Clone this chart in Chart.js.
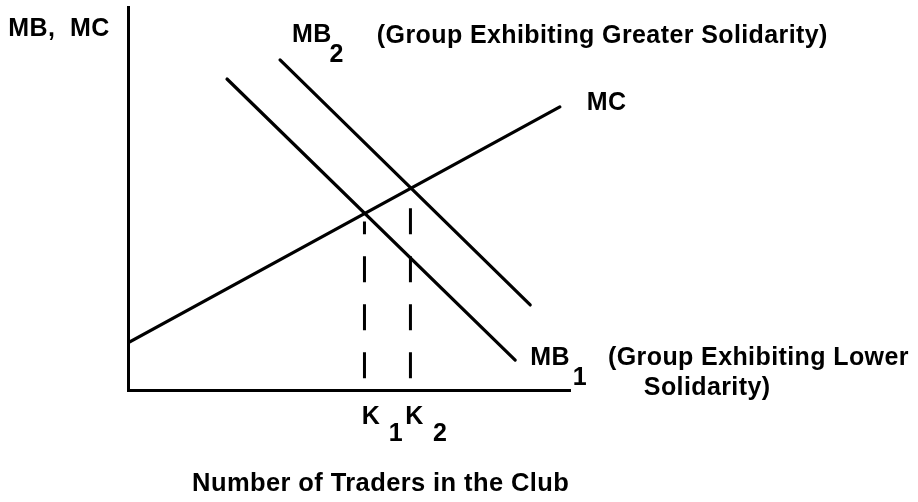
<!DOCTYPE html>
<html>
<head>
<meta charset="utf-8">
<script src="https://cdn.jsdelivr.net/npm/chart.js@4.4.0/dist/chart.umd.min.js"></script>
<style>
  html, body { margin: 0; padding: 0; background: #fff; }
  #wrap { width: 918px; height: 502px; }
</style>
</head>
<body>
<div id="wrap"><canvas id="chart"></canvas></div>
<script>
// curve end points, in axis units (0..100 on both axes)
const mcX = [0, 97.7];
const mcY = [12.3, 73.9];
const mb1X = [22.4, 87.6];
const mb1Y = [81.2, 7.8];
const mb2X = [34.4, 91.0];
const mb2Y = [86.2, 22.2];
// K1, K2 and the height where each dashed drop line stops
const kX = [53.5, 63.9];
const kTop = [44.0, 49.6];
const dashBottom = 3.1;

// text labels: [text, x, y, font size]
const labels = [
  ['MB,  MC', -27.1, 94.3, 25],
  ['MB', 37.1, 92.7, 25],
  ['2', 45.6, 87.5, 25],
  ['(Group Exhibiting Greater Solidarity)', 56.3, 92.5, 25],
  ['MC', 103.8, 75.0, 25],
  ['MB', 91.0, 8.2, 25],
  ['1', 100.6, 3.0, 25],
  ['(Group Exhibiting Lower', 108.6, 8.2, 25],
  ['Solidarity)', 116.7, 0.4, 25],
  ['K', 52.9, -7.2, 25],
  ['1', 59.0, -11.4, 25],
  ['K', 62.7, -7.2, 25],
  ['2', 69.0, -11.4, 25],
  ['Number of Traders in the Club', 14.5, -24.6, 25.5]
];

function pts(xs, ys) {
  return xs.map((x, i) => ({x: x, y: ys[i]}));
}

const solid = {
  showLine: true,
  pointRadius: 0,
  borderColor: '#000',
  borderWidth: 3.2,
  borderCapStyle: 'round',
  fill: false
};
const dashed = {
  showLine: true,
  pointRadius: 0,
  borderColor: '#000',
  borderWidth: 3,
  borderDash: [26, 22],
  borderCapStyle: 'butt',
  fill: false
};

const textPlugin = {
  id: 'textLabels',
  afterDraw(chart) {
    const ctx = chart.ctx;
    const xs = chart.scales.x, ys = chart.scales.y;
    ctx.save();
    ctx.fillStyle = '#000';
    ctx.textAlign = 'left';
    ctx.textBaseline = 'middle';
    ctx.letterSpacing = '0.4px';
    labels.forEach(l => {
      ctx.font = 'bold ' + l[3] + 'px "Liberation Sans", Arial, sans-serif';
      ctx.fillText(l[0], xs.getPixelForValue(l[1]), ys.getPixelForValue(l[2]));
    });
    ctx.restore();
  }
};

const axis = {
  type: 'linear',
  min: 0,
  max: 100,
  grid: { display: false, drawTicks: false },
  ticks: { display: false },
  border: { display: true, color: '#000', width: 3 }
};

new Chart(document.getElementById('chart'), {
  type: 'scatter',
  data: {
    datasets: [
      Object.assign({ data: pts(mcX, mcY) }, solid),
      Object.assign({ data: pts(mb1X, mb1Y) }, solid),
      Object.assign({ data: pts(mb2X, mb2Y) }, solid),
      Object.assign({ data: [{x: kX[0], y: dashBottom}, {x: kX[0], y: kTop[0]}] }, dashed),
      Object.assign({ data: [{x: kX[1], y: dashBottom}, {x: kX[1], y: kTop[1]}] }, dashed)
    ]
  },
  options: {
    responsive: true,
    maintainAspectRatio: false,
    animation: false,
    layout: { padding: { left: 128, right: 348, top: 7, bottom: 112 } },
    plugins: { legend: { display: false }, tooltip: { enabled: false } },
    scales: { x: axis, y: axis }
  },
  plugins: [textPlugin]
});
</script>
</body>
</html>
